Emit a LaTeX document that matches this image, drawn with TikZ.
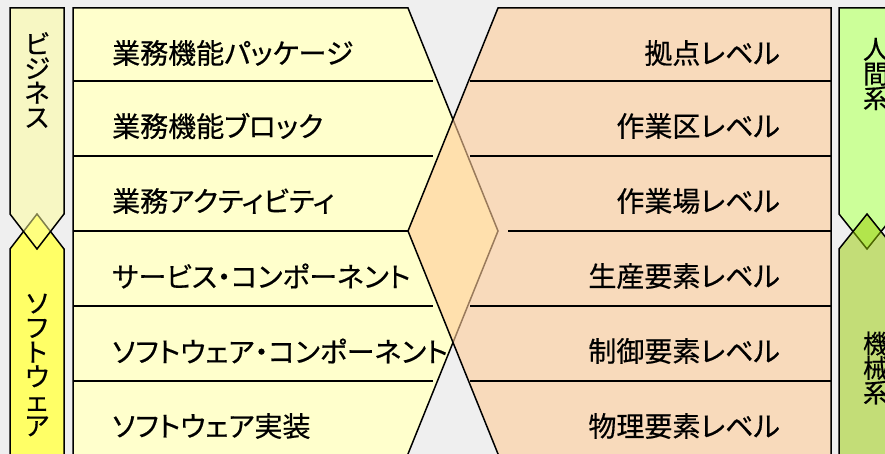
\documentclass[tikz,border=0pt]{standalone}
\usepackage{fontspec}
\newfontfamily\jp[RawFeature=+palt,FakeBold=0.5]{Noto Sans CJK JP}
\definecolor{bg}{HTML}{EFEFEF}
\definecolor{bizc}{HTML}{FFFF99}
\definecolor{softc}{HTML}{FFFF66}
\definecolor{funcc}{HTML}{FFFFCC}
\definecolor{levelc}{HTML}{FFCC99}
\definecolor{humanc}{HTML}{CCFF99}
\definecolor{machc}{HTML}{99CC00}

\tikzstyle{edge}=[line width=1.5pt]
\tikzstyle{rowtext}=[anchor=west,inner sep=0pt,font=\jp\fontsize{28}{30}\selectfont]
\tikzstyle{lvltext}=[anchor=east,inner sep=0pt,font=\jp\fontsize{28}{30}\selectfont]
\tikzstyle{vtext}=[align=center,inner sep=0pt,font=\jp\fontsize{26}{24.5}\selectfont]

\begin{document}
\begin{tikzpicture}[x=1pt,y=-1pt]
    \clip (0,0) rectangle (885,454);
    \fill[bg] (0,0) rectangle (885,454);

    % left column
    \filldraw[edge,fill=softc] (10,470) -- (10,249) -- (37,214) -- (64,249) -- (64,470);
    \filldraw[edge,fill=bizc,fill opacity=0.5] (10,8) -- (64,8) -- (64,214) -- (37,249) -- (10,214) -- cycle;
    \node[vtext] (biz) at (37,80) {ビ\\ジ\\ネ\\ス};
    \node[vtext] (soft) at (37,365) {ソ\\フ\\ト\\ウ\\ェ\\ア};

    % middle
    \filldraw[edge,fill=funcc] (73,470) -- (73,8) -- (408,8) -- (498,231) -- (401.5,470);
    \foreach \y in {81,156,306,381}
        \draw[edge] (73,\y) -- (433,\y);
    \draw[edge] (73,231) -- (408,231);
    \filldraw[edge,fill=levelc,fill opacity=0.6] (831,470) -- (831,8) -- (498,8) -- (408,231) -- (504.5,470);
    \foreach \y in {81,156,306,381}
        \draw[edge] (470,\y) -- (831,\y);
    \draw[edge] (508,231) -- (831,231);

    \node[rowtext] (f1) at (112,53) {業務機能パッケージ};
    \node[rowtext] (f2) at (112,126) {業務機能ブロック};
    \node[rowtext] (f3) at (112,201) {業務アクティビティ};
    \node[rowtext] (f4) at (112,276) {サービス・コンポーネント};
    \node[rowtext] (f5) at (112,351) {ソフトウェア・コンポーネント};
    \node[rowtext] (f6) at (112,426) {ソフトウェア実装};

    \node[lvltext] (l1) at (780,53) {拠点レベル};
    \node[lvltext] (l2) at (780,126) {作業区レベル};
    \node[lvltext] (l3) at (780,201) {作業場レベル};
    \node[lvltext] (l4) at (780,276) {生産要素レベル};
    \node[lvltext] (l5) at (780,351) {制御要素レベル};
    \node[lvltext] (l6) at (780,426) {物理要素レベル};

    % right column
    \filldraw[edge,fill=humanc] (839,8) -- (895,8) -- (895,214) -- (867,249) -- (839,214) -- cycle;
    \filldraw[edge,fill=machc,fill opacity=0.5] (839,470) -- (839,249) -- (867,214) -- (895,249) -- (895,470);
    \node[vtext] (human) at (876,74) {人\\間\\系};
    \node[vtext] (mach) at (876,368) {機\\械\\系};
\end{tikzpicture}
\end{document}
